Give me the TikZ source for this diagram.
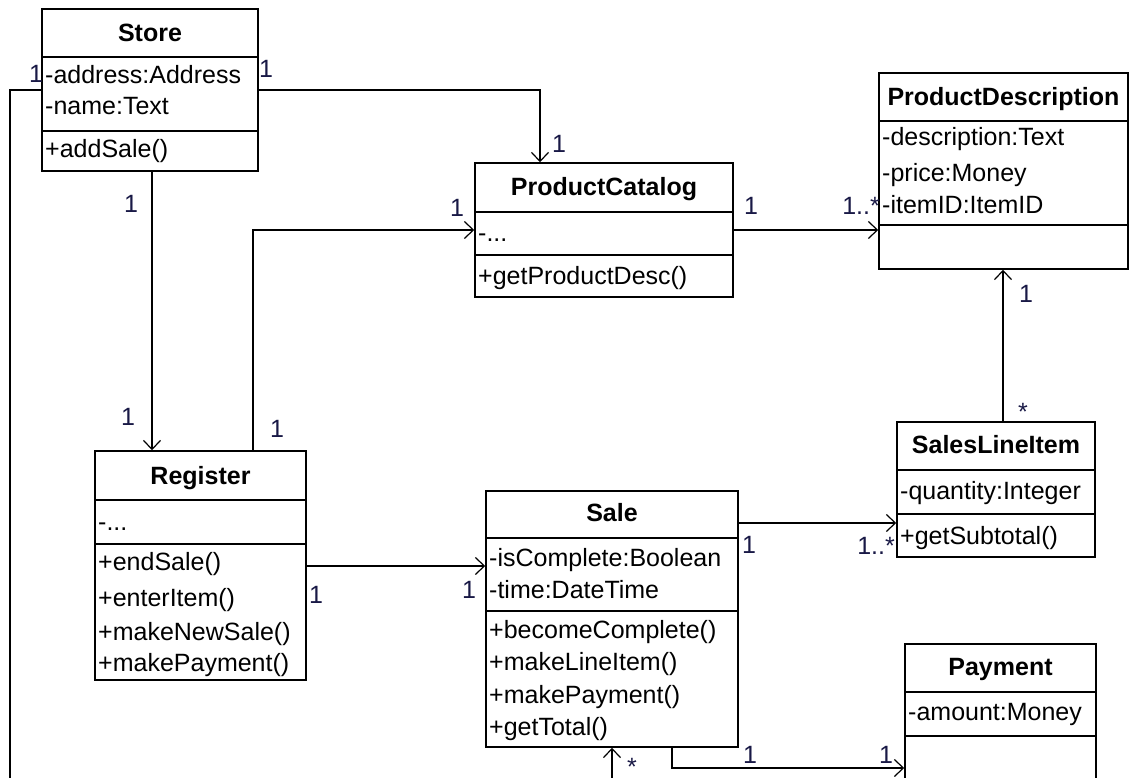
\documentclass[tikz,border=0pt]{standalone}
\usepackage{fontspec}
\setmainfont{Liberation Sans}
\usetikzlibrary{arrows.meta,fit}
\definecolor{multc}{RGB}{25,25,70}
\newcommand\umlsize{\fontsize{25}{30}\selectfont}
\begin{document}
\begin{tikzpicture}[x=1pt,y=-1pt,
  classbox/.style={draw, line width=1.5pt, inner sep=0pt},
  ctitle/.style={anchor=base, inner sep=0pt, font=\umlsize\bfseries},
  member/.style={anchor=base west, inner sep=0pt, font=\umlsize},
  mult/.style={anchor=base, inner sep=0pt, text depth=0pt, font=\umlsize, text=multc},
  multr/.style={mult, anchor=base east},
  compsep/.style={line width=1.5pt},
  assoc/.style={draw, line width=1.3pt},
  nav/.style={assoc, -{Straight Barb[length=9pt,width=17pt,line width=1.2pt]}}]

\clip (0,0) rectangle (1141,778);
\fill[white] (0,0) rectangle (1141,778);

% ---------- Store ----------
\node[classbox, fit={(42,9) (258,171)}] (store) {};
\draw[compsep] (42,57) -- (258,57);
\draw[compsep] (42,131) -- (258,131);
\node[ctitle] (storeT) at (150,42) {Store};
\node[member] (storeA1) at (45,84) {-address:Address};
\node[member] (storeA2) at (45,115) {-name:Text};
\node[member] (storeM1) at (45,158) {+addSale()};

% ---------- ProductCatalog ----------
\node[classbox, fit={(475,163) (733,297)}] (catalog) {};
\draw[compsep] (475,212) -- (733,212);
\draw[compsep] (475,255) -- (733,255);
\node[ctitle] (catalogT) at (604,196) {ProductCatalog};
\node[member] (catalogA1) at (478,242) {-...};
\node[member] (catalogM1) at (478,284) {+getProductDesc()};

% ---------- ProductDescription ----------
\node[classbox, fit={(879,73) (1128,269)}] (proddesc) {};
\draw[compsep] (879,121) -- (1128,121);
\draw[compsep] (879,225) -- (1128,225);
\node[ctitle] (proddescT) at (1003.5,106) {ProductDescription};
\node[member] (proddescA1) at (882,146) {-description:Text};
\node[member] (proddescA2) at (882,182) {-price:Money};
\node[member] (proddescA3) at (882,214) {-itemID:ItemID};

% ---------- SalesLineItem ----------
\node[classbox, fit={(897,422) (1095,557)}] (lineitem) {};
\draw[compsep] (897,470) -- (1095,470);
\draw[compsep] (897,514) -- (1095,514);
\node[ctitle] (lineitemT) at (996,453) {SalesLineItem};
\node[member] (lineitemA1) at (900,499) {-quantity:Integer};
\node[member] (lineitemM1) at (900,544) {+getSubtotal()};

% ---------- Register ----------
\node[classbox, fit={(95,451) (306,680)}] (register) {};
\draw[compsep] (95,500) -- (306,500);
\draw[compsep] (95,544) -- (306,544);
\node[ctitle] (registerT) at (200.5,484) {Register};
\node[member] (registerA1) at (98,530) {-...};
\node[member] (registerM1) at (98,570) {+endSale()};
\node[member] (registerM2) at (98,606) {+enterItem()};
\node[member] (registerM3) at (98,640) {+makeNewSale()};
\node[member] (registerM4) at (98,671) {+makePayment()};

% ---------- Sale ----------
\node[classbox, fit={(486,491) (738,747)}] (sale) {};
\draw[compsep] (486,538) -- (738,538);
\draw[compsep] (486,611) -- (738,611);
\node[ctitle] (saleT) at (612,521) {Sale};
\node[member] (saleA1) at (489,566) {-isComplete:Boolean};
\node[member] (saleA2) at (489,598) {-time:DateTime};
\node[member] (saleM1) at (489,638) {+becomeComplete()};
\node[member] (saleM2) at (489,670) {+makeLineItem()};
\node[member] (saleM3) at (489,703) {+makePayment()};
\node[member] (saleM4) at (489,735) {+getTotal()};

% ---------- Payment ----------
\node[classbox, fit={(905,644) (1096,800)}] (payment) {};
\draw[compsep] (905,692) -- (1096,692);
\draw[compsep] (905,736) -- (1096,736);
\node[ctitle] (paymentT) at (1000.5,675) {Payment};
\node[member] (paymentA1) at (908,720) {-amount:Money};

% ---------- associations ----------
\coordinate (storeLeftEnd) at (10,800);
\coordinate (saleBelow) at (612,800);

\draw[assoc] (store.west |- 0,90) -| (storeLeftEnd);
\draw[nav] (store.east |- 0,90) -| (catalog.north -| 540,0);
\draw[nav] (store.south -| 152,0) -- (register.north -| 152,0);
\draw[nav] (register.north -| 253,0) |- (catalog.west |- 0,230);
\draw[nav] (catalog.east |- 0,230) -- (proddesc.west |- 0,230);
\draw[nav] (lineitem.north -| 1003,0) -- (proddesc.south -| 1003,0);
\draw[nav] (sale.east |- 0,523) -- (lineitem.west |- 0,523);
\draw[nav] (register.east |- 0,566) -- (sale.west |- 0,566);
\draw[nav] (sale.south -| 672,0) |- (payment.west |- 0,768);
\draw[nav] (saleBelow) -- (sale.south -| 612,0);

% ---------- multiplicities ----------
\node[mult] (m1) at (36,83) {1};
\node[mult] (m2) at (266,78) {1};
\node[mult] (m3) at (559,153) {1};
\node[mult] (m4) at (131,213) {1};
\node[mult] (m5) at (128,425) {1};
\node[mult] (m6) at (457,217) {1};
\node[mult] (m7) at (277,437) {1};
\node[mult] (m8) at (751,215) {1};
\node[multr] (m9) at (880,215) {1..*};
\node[mult] (m10) at (1026,302) {1};
\node[mult] (m11) at (1023,420) {*};
\node[mult] (m12) at (749,553) {1};
\node[multr] (m13) at (895,554) {1..*};
\node[mult] (m14) at (316,603) {1};
\node[mult] (m15) at (469,598) {1};
\node[mult] (m16) at (750,763) {1};
\node[mult] (m17) at (886,763) {1};
\node[mult] (m18) at (632,775) {*};
\end{tikzpicture}
\end{document}
